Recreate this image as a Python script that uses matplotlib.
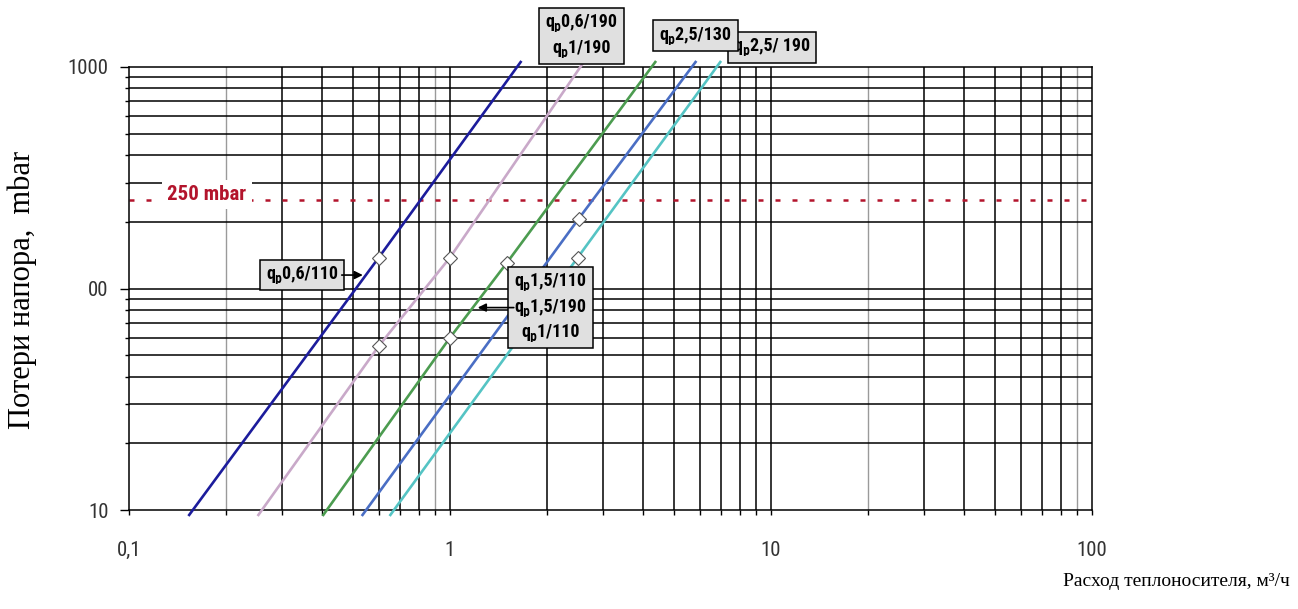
import matplotlib
matplotlib.use("Agg")
import matplotlib.pyplot as plt
from matplotlib import font_manager


def pick_font(names):
    for n in names:
        try:
            font_manager.findfont(n, fallback_to_default=False)
            return n
        except Exception:
            pass
    return "DejaVu Sans"


narrow = pick_font(["Liberation Sans Narrow", "Arial Narrow", "Roboto Condensed", "DejaVu Sans"])
serif = pick_font(["Liberation Serif", "Times New Roman", "DejaVu Serif"])
print("fonts:", narrow, serif)

# points (flow m3/h, pressure loss mbar)
navy_q = [0.154, 0.6, 1.66]
navy_p = [9.5, 138, 1053]
pink_q = [0.253, 0.6, 1.0, 2.61]
pink_p = [9.5, 55, 138, 1053]
green_q = [0.403, 1.0, 1.5, 4.36]
green_p = [9.5, 60, 130, 1053]
blue_q = [0.534, 2.52, 5.82]
blue_p = [9.5, 207, 1053]
cyan_q = [0.652, 2.5, 6.95]
cyan_p = [9.5, 138, 1053]

# nominal flow markers on the curves
navy_mq, navy_mp = [0.6], [138]
pink_mq, pink_mp = [0.6, 1.0], [55, 138]
green_mq, green_mp = [1.0, 1.5], [60, 130]
blue_mq, blue_mp = [2.52], [207]
cyan_mq, cyan_mp = [2.5], [138]

limit_p = 250
x_ticks = [0.1, 1, 10, 100]
x_labels = ["0,1", "1", "10", "100"]
y_ticks = [10, 100, 1000]
y_labels = ["10", "00", "1000"]

curves = [
    (navy_q, navy_p, navy_mq, navy_mp, "#1c1c9c"),
    (pink_q, pink_p, pink_mq, pink_mp, "#c9a9c9"),
    (green_q, green_p, green_mq, green_mp, "#4c9c50"),
    (blue_q, blue_p, blue_mq, blue_mp, "#4a6ec4"),
    (cyan_q, cyan_p, cyan_mq, cyan_mp, "#55c4c4"),
]

W, H = 1298, 609
fig = plt.figure(figsize=(W / 100, H / 100), dpi=100)
x0, x1, y0, y1 = 129, 1092, 67, 510
ax = fig.add_axes([x0 / W, 1 - y1 / H, (x1 - x0) / W, (y1 - y0) / H])
ax.set_xscale("log")
ax.set_yscale("log")
ax.set_xlim(0.1, 100)
ax.set_ylim(10, 1000)

# grid
gray_x = [0.2, 0.9, 20, 90]
for dec in [0.1, 1, 10]:
    for k in range(1, 10):
        v = round(k * dec, 6)
        if v > 0.1:
            if v in gray_x:
                ax.axvline(v, color="#9a9a9a", lw=1.0, zorder=1)
            else:
                ax.axvline(v, color="black", lw=1.1, zorder=1)
for dec in [10, 100]:
    for k in range(1, 10):
        v = k * dec
        if v > 10:
            ax.axhline(v, color="black", lw=1.1, zorder=1)

for s in ax.spines.values():
    s.set_linewidth(1.1)
    s.set_color("black")

ax.set_xticks(x_ticks)
ax.set_xticklabels(x_labels)
ax.set_yticks(y_ticks)
ax.set_yticklabels(y_labels)
ax.set_xticks([k * d for d in [0.1, 1, 10] for k in range(2, 10)], minor=True)
ax.set_yticks([k * d for d in [10, 100] for k in range(2, 10)], minor=True)
ax.xaxis.set_minor_formatter(plt.NullFormatter())
ax.yaxis.set_minor_formatter(plt.NullFormatter())
ax.tick_params(axis="x", which="both", direction="out", length=3.5, width=1, pad=19,
               labelsize=15, labelcolor="#333333")
ax.tick_params(axis="y", which="major", direction="out", length=6.5, width=1, pad=8,
               labelsize=15, labelcolor="#333333")
ax.tick_params(axis="y", which="minor", direction="out", length=3, width=1)
for lab in ax.get_xticklabels() + ax.get_yticklabels():
    lab.set_family([narrow, "DejaVu Sans"])

# curves
for q, p, mq, mp, c in curves:
    ax.plot(q, p, color=c, lw=1.9, clip_on=False, zorder=3)
    ax.plot(mq, mp, "D", ms=7, mfc="white", mec="#555555", mew=0.8, zorder=4)

# limit line
ax.axhline(limit_p, color="#b3142c", lw=1.8, dashes=(2, 4.8), zorder=2)
ax.text(0.175, 265, "250 mbar", color="#b3142c", fontsize=15, fontweight="bold",
        family=[narrow, "DejaVu Sans"], ha="center", va="center", zorder=5,
        bbox=dict(boxstyle="square,pad=0.25", fc="white", ec="none"))

box = dict(boxstyle="square,pad=0.35", fc="#e0e0e0", ec="black", lw=1.1)
tkw = dict(fontsize=13, fontweight="bold", family=[narrow, "DejaVu Sans"],
           ha="center", va="center", clip_on=False, linespacing=1.45)

ax.text(0.346, 115, "qₚ0,6/110", bbox=box, zorder=6, **tkw)
ax.annotate("", xy=(0.535, 115), xytext=(0.46, 115),
            arrowprops=dict(arrowstyle="-|>", color="black", lw=1.2,
                            mutation_scale=12, shrinkA=0, shrinkB=0), zorder=6)

ax.text(2.06, 82, "qₚ1,5/110\nqₚ1,5/190\nqₚ1/110", bbox=box, zorder=6, **tkw)
ax.annotate("", xy=(1.22, 82), xytext=(1.58, 82),
            arrowprops=dict(arrowstyle="-|>", color="black", lw=1.2,
                            mutation_scale=12, shrinkA=0, shrinkB=0), zorder=6)

ax.text(2.57, 1380, "qₚ0,6/190\nqₚ1/190", bbox=box, zorder=6, **tkw)
ax.text(10.07, 1225, "qₚ2,5/ 190", bbox=box, zorder=6, **tkw)
ax.text(5.82, 1387, "qₚ2,5/130", bbox=box, zorder=7, **tkw)

fig.text(22 / W, 1 - 290 / H, "Потери напора,  mbar", rotation=90, ha="center",
         va="center", fontsize=22, family=serif)
fig.text(1290 / W, 1 - 581 / H, "Расход теплоносителя, м³/ч", ha="right",
         va="center", fontsize=14, family=serif)

fig.savefig("out.png", dpi=100)
